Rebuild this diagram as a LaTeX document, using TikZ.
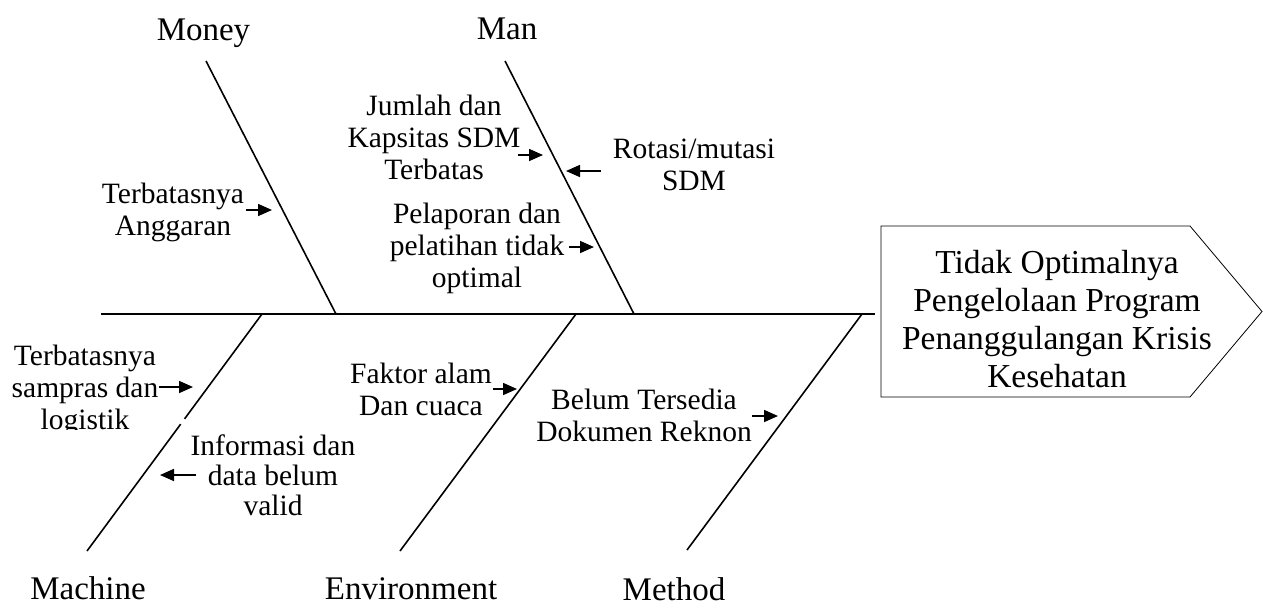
\documentclass[tikz,border=0pt]{standalone}
\usepackage{fontspec}
\setmainfont{Liberation Serif}
\usetikzlibrary{arrows.meta,positioning}

\begin{document}
\begin{tikzpicture}[x=1pt, y=-1pt]

\tikzstyle{tulang}=[line width=1.6pt]
\tikzstyle{kotak}=[line width=0.8pt]
\tikzstyle{sebab}=[align=center, anchor=north, inner sep=0pt, font=\fontsize{29.5}{32}\selectfont]
\tikzstyle{kategori}=[anchor=base, inner sep=0pt, font=\fontsize{33}{38}\selectfont]
\tikzstyle{akibat}=[align=center, anchor=north, inner sep=0pt, font=\fontsize{33.5}{38}\selectfont]
\tikzstyle{pil}=[line width=1.6pt, -{Triangle[length=14pt, width=12pt]}]

\useasboundingbox (0,0) rectangle (1263,608);

% spine and bones
\coordinate (ekor) at (101,314);
\coordinate (kepala) at (875,314);
\coordinate (money1) at (206,61);
\coordinate (money2) at (336,314);
\coordinate (man1) at (505,61);
\coordinate (man2) at (634,314);
\coordinate (machine1) at (262,314);
\coordinate (machine2) at (87,551);
\coordinate (env1) at (576,314);
\coordinate (env2) at (400,551);
\coordinate (method1) at (862,314);
\coordinate (method2) at (687,550);

\draw[tulang] (ekor) -- (kepala);
\draw[tulang] (money1) -- (money2);
\draw[tulang] (man1) -- (man2);
\draw[tulang] (machine1) -- (machine2);
\draw[tulang] (env1) -- (env2);
\draw[tulang] (method1) -- (method2);
\draw[white, line width=3pt] (184.5,419) -- (180.8,424);

% head
\coordinate (k1) at (881,226);
\coordinate (k2) at (1190,226);
\coordinate (k3) at (1262,311.5);
\coordinate (k4) at (1190,397);
\coordinate (k5) at (881,397);
\draw[kotak] (k1) -- (k2) -- (k3) -- (k4) -- (k5) -- cycle;
\node[akibat] (masalah) at (1057,250) {Tidak Optimalnya\\Pengelolaan Program\\Penanggulangan Krisis\\Kesehatan};

% categories
\node[kategori] (money) at (203.5,40) {Money};
\node[kategori] (man) at (507,39) {Man};
\node[kategori] (machine) at (88,599) {Machine};
\node[kategori] (environment) at (411,599) {Environment};
\node[kategori] (method) at (674,600) {Method};

% causes
\node[sebab] (anggaran) at (173,183) {Terbatasnya\\Anggaran};
\node[sebab] (jumlah) at (434,95) {Jumlah dan\\Kapsitas SDM\\Terbatas};
\node[sebab] (rotasi) at (694,139) {Rotasi/mutasi\\SDM};
\node[sebab] (pelaporan) at (477,203) {Pelaporan dan\\pelatihan tidak\\optimal};
\begin{scope}
\clip (0,330) rectangle (170,429);
\node[sebab] (sampras) at (85,345) {Terbatasnya\\sampras dan\\logistik};
\end{scope}
\node[sebab, font=\fontsize{29.5}{30}\selectfont] (informasi) at (273,435) {Informasi dan\\data belum\\valid};
\node[sebab] (faktor) at (421,363) {Faktor alam\\Dan cuaca};
\node[sebab] (dokumen) at (644,389) {Belum Tersedia\\Dokumen Reknon};

\draw[pil] (246,210) -- ++(26,0);
\draw[pil] (518,155) -- ++(25,0);
\draw[pil] (601,171) -- ++(-35,0);
\draw[pil] (569,247) -- ++(25,0);
\draw[pil] (159,387) -- ++(34,0);
\draw[pil] (196,475) -- ++(-36,0);
\draw[pil] (493,389) -- ++(24,0);
\draw[pil] (752,416) -- ++(26,0);

\end{tikzpicture}
\end{document}
